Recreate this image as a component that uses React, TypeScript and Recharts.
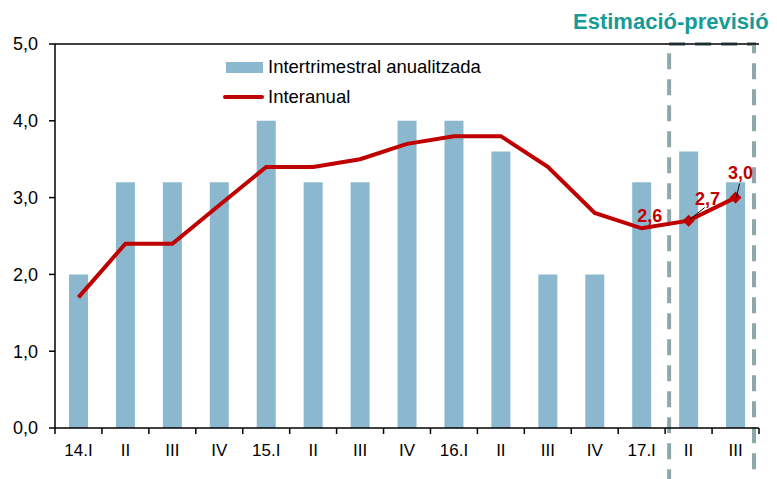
import React from "react";
import {
  Bar,
  ComposedChart,
  LabelList,
  Line,
  ReferenceArea,
  ReferenceLine,
  XAxis,
  YAxis,
} from "recharts";

const quarters = ["14.I", "II", "III", "IV", "15.I", "II", "III", "IV", "16.I", "II", "III", "IV", "17.I", "II", "III"];
const intertrimestral = [2.0, 3.2, 3.2, 3.2, 4.0, 3.2, 3.2, 4.0, 4.0, 3.6, 2.0, 2.0, 3.2, 3.6, 3.2];
const interanual = [1.7, 2.4, 2.4, 2.9, 3.4, 3.4, 3.5, 3.7, 3.8, 3.8, 3.4, 2.8, 2.6, 2.7, 3.0];
const yTicks = [0, 1, 2, 3, 4, 5];
const forecastFrom = 13;
const labelledFrom = 12;

const data = quarters.map((_, i) => ({
  idx: i,
  inter: intertrimestral[i],
  anual: interanual[i],
}));

const W = 777;
const H = 479;
const MARGIN = { top: 44, right: 18, bottom: 21, left: 0 };
const Y_WIDTH = 55;
const STEP = (W - MARGIN.left - MARGIN.right - Y_WIDTH) / quarters.length;

const FONT = '"Liberation Sans", Arial, sans-serif';
const RED = "#C00000";
const BLUE = "#8BB8CF";

// label placement relative to the point (style only)
const labelPos: Record<number, { dx: number; dy: number; lead?: [number, number] }> = {
  12: { dx: 8, dy: -12 },
  13: { dx: 19, dy: -22, lead: [16, -13] },
  14: { dx: 5, dy: -25, lead: [4, -14] },
};

const fmt = (v: number) => v.toFixed(1).replace(".", ",");

function XTick(props: any) {
  const { x, y, payload, index } = props;
  const half = STEP / 2;
  return (
    <g>
      <line x1={x - half} x2={x - half} y1={y} y2={y + 6} stroke="#000" strokeWidth={1.5} />
      {index === quarters.length - 1 && (
        <line x1={x + half} x2={x + half} y1={y} y2={y + 6} stroke="#000" strokeWidth={1.5} />
      )}
      <text
        x={x}
        y={y + 22}
        textAnchor="middle"
        dominantBaseline="central"
        fontSize={17}
        fontFamily={FONT}
        fill="#000"
      >
        {quarters[payload.value]}
      </text>
    </g>
  );
}

function Diamond(props: any) {
  const { cx, cy, index } = props;
  if (index < forecastFrom || cx == null) return <g key={`d${index}`} />;
  const r = 6;
  return (
    <path
      key={`d${index}`}
      d={`M${cx},${cy - r}L${cx + r},${cy}L${cx},${cy + r}L${cx - r},${cy}Z`}
      fill={RED}
    />
  );
}

function PointLabel(props: any) {
  const { x, y, value, index } = props;
  if (index < labelledFrom) return null;
  const p = labelPos[index];
  if (!p) return null;
  return (
    <g>
      {p.lead && (
        <line x1={x + 1} y1={y - 1} x2={x + p.lead[0]} y2={y + p.lead[1]} stroke="#000" strokeWidth={1} />
      )}
      <text
        x={x + p.dx}
        y={y + p.dy}
        textAnchor="middle"
        dominantBaseline="central"
        fontSize={18}
        fontWeight="bold"
        fontFamily={FONT}
        fill={RED}
      >
        {fmt(Number(value))}
      </text>
    </g>
  );
}

function ForecastBox(props: any) {
  const { x, y, width, height } = props;
  return (
    <rect
      x={x + 4}
      y={y}
      width={width - 9}
      height={height}
      fill="none"
      stroke="#8FA9AA"
      strokeWidth={4}
      strokeDasharray="16 10"
    />
  );
}

export default function App() {
  return (
    <div style={{ position: "absolute", left: 0, top: 0, width: W, height: H, background: "#fff", fontFamily: FONT }}>
      <div
        style={{
          position: "absolute",
          left: 573,
          top: 9,
          fontSize: 22,
          fontWeight: "bold",
          color: "#169B96",
          whiteSpace: "nowrap",
        }}
      >
        Estimació-previsió
      </div>
      <ComposedChart width={W} height={H} data={data} margin={MARGIN}>
        <XAxis
          dataKey="idx"
          type="category"
          interval={0}
          height={30}
          tickLine={false}
          tickSize={0}
          tickMargin={0}
          axisLine={{ stroke: "#000", strokeWidth: 1.5 }}
          tick={<XTick />}
        />
        <YAxis
          yAxisId="l"
          width={Y_WIDTH}
          domain={[0, 5]}
          ticks={yTicks}
          tickFormatter={fmt}
          tickSize={6}
          tickMargin={11}
          tickLine={{ stroke: "#000", strokeWidth: 1.5 }}
          axisLine={{ stroke: "#000", strokeWidth: 1.5 }}
          tick={{ fill: "#000", fontSize: 18, fontFamily: FONT }}
        />
        <YAxis
          yAxisId="r"
          orientation="right"
          width={0}
          domain={[0, 5]}
          tick={false}
          tickLine={false}
          axisLine={{ stroke: "#222", strokeWidth: 2 }}
        />
        <ReferenceLine yAxisId="l" y={5} stroke="#000" strokeWidth={1.5} ifOverflow="visible" />
        <Bar yAxisId="l" dataKey="inter" fill={BLUE} barSize={19} isAnimationActive={false} />
        <Line
          yAxisId="l"
          dataKey="anual"
          type="linear"
          stroke={RED}
          strokeWidth={4}
          dot={Diamond}
          activeDot={false}
          isAnimationActive={false}
        >
          <LabelList dataKey="anual" content={PointLabel} />
        </Line>
        <ReferenceArea
          yAxisId="l"
          x1={forecastFrom}
          x2={quarters.length - 1}
          y1={-1}
          y2={5}
          ifOverflow="visible"
          shape={ForecastBox}
        />
      </ComposedChart>
      <div style={{ position: "absolute", left: 223, top: 54, fontSize: 18.5, color: "#000", lineHeight: "26px" }}>
        <div style={{ display: "flex", alignItems: "center", height: 26 }}>
          <span style={{ display: "inline-block", width: 37, height: 11, background: BLUE, marginLeft: 3, marginRight: 5 }} />
          Intertrimestral anualitzada
        </div>
        <div style={{ display: "flex", alignItems: "center", height: 26, marginTop: 4 }}>
          <span style={{ display: "inline-block", width: 41, height: 4, background: RED, borderRadius: 2, marginRight: 4 }} />
          Interanual
        </div>
      </div>
    </div>
  );
}
